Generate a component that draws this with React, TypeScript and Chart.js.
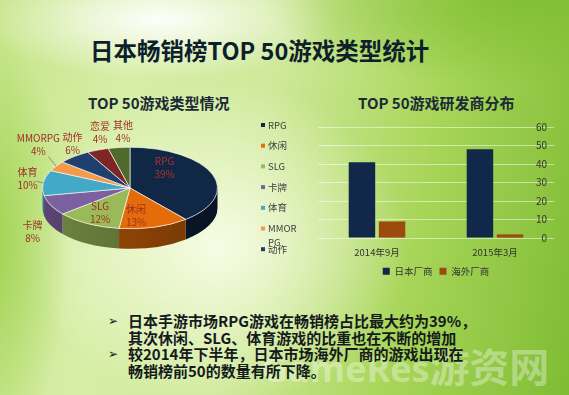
import React, { useEffect, useRef } from 'react';
import { Chart, registerables } from 'chart.js';

Chart.register(...registerables);

// ---------- data ----------
const TITLE = '日本畅销榜TOP 50游戏类型统计';
const PIE_TITLE = 'TOP 50游戏类型情况';
const BAR_TITLE = 'TOP 50游戏研发商分布';

const GENRES = ['RPG', '休闲', 'SLG', '卡牌', '体育', 'MMORPG', '动作', '恋爱', '其他'];
const GENRE_SHARE = [39, 13, 12, 8, 10, 4, 6, 4, 4];
const GENRE_COLORS = ['#102746', '#e46c0a', '#9aba59', '#7d60a0', '#44a9c6', '#f39a4c', '#1f3f6e', '#7e2626', '#4f6a2a'];

const PERIODS = ['2014年9月', '2015年3月'];
const SERIES_NAMES = ['日本厂商', '海外厂商'];
const JAPAN_COUNT = [41, 48];
const OVERSEAS_COUNT = [9, 2];
const Y_MAX = 60;
const Y_STEP = 10;

const BULLETS = [
  ['日本手游市场RPG游戏在畅销榜占比最大约为39%，', '其次休闲、SLG、体育游戏的比重也在不断的增加'],
  ['较2014年下半年，日本市场海外厂商的游戏出现在', '畅销榜前50的数量有所下降。'],
];
const WATERMARK = ['GameRes', '游资网'];

// ---------- layout / style ----------
const FONT = '"Noto Sans CJK SC", "Noto Sans", sans-serif';
const TILT = 0.466;
const DEPTH = 20;
// label placement factors relative to the pie ellipse (x factor, y factor)
const LABEL_PLACE = [
  [0.42, 1.5], [0.25, 0.71], [0.71, 0.7], [1.23, 1.37], [1.18, 1.76],
  [1.24, 2.0], [1.03, 1.42], [0.93, 1.47], [0.64, 1.38],
];
const LEADER = [false, false, false, false, true, true, false, false, false];

function shade(hex: string, f: number) {
  const n = parseInt(hex.slice(1), 16);
  const r = Math.round(((n >> 16) & 255) * f);
  const g = Math.round(((n >> 8) & 255) * f);
  const b = Math.round((n & 255) * f);
  return `rgb(${r},${g},${b})`;
}

const pie3d = {
  id: 'pie3d',
  beforeDatasetsDraw(chart: any) {
    const arcs = chart.getDatasetMeta(0).data as any[];
    if (!arcs.length) return;
    const { x: cx, y: cy, outerRadius: r } = arcs[0].getProps(['x', 'y', 'outerRadius'], true);
    const ry = r * TILT;
    const ctx = chart.ctx as CanvasRenderingContext2D;
    ctx.save();
    arcs.forEach((arc, i) => {
      const { startAngle: s, endAngle: e } = arc.getProps(['startAngle', 'endAngle'], true);
      const a = Math.max(s, 0);
      const b = Math.min(e, Math.PI);
      if (a >= b) return;
      ctx.beginPath();
      ctx.ellipse(cx, cy, r, ry, 0, a, b);
      ctx.ellipse(cx, cy + DEPTH, r, ry, 0, b, a, true);
      ctx.closePath();
      const g = ctx.createLinearGradient(cx - r, 0, cx + r, 0);
      g.addColorStop(0, shade(GENRE_COLORS[i], 0.72));
      g.addColorStop(1, shade(GENRE_COLORS[i], 0.5));
      ctx.fillStyle = g;
      ctx.fill();
    });
    ctx.restore();
    ctx.save();
    ctx.translate(0, cy);
    ctx.scale(1, TILT);
    ctx.translate(0, -cy);
  },
  afterDatasetsDraw(chart: any) {
    chart.ctx.restore();
  },
  afterDraw(chart: any) {
    const arcs = chart.getDatasetMeta(0).data as any[];
    if (!arcs.length) return;
    const { x: cx, y: cy, outerRadius: r } = arcs[0].getProps(['x', 'y', 'outerRadius'], true);
    const ry = r * TILT;
    const ctx = chart.ctx as CanvasRenderingContext2D;
    ctx.save();
    ctx.font = `10px ${FONT}`;
    ctx.textAlign = 'center';
    ctx.textBaseline = 'middle';
    arcs.forEach((arc, i) => {
      const { startAngle: s, endAngle: e } = arc.getProps(['startAngle', 'endAngle'], true);
      const m = (s + e) / 2;
      const [fx, fy] = LABEL_PLACE[i];
      const outside = fx > 1;
      const lx = cx + r * Math.cos(m) * fx;
      const ly = cy + ry * Math.sin(m) * fy + (outside && Math.sin(m) > 0 ? DEPTH : 0);
      if (LEADER[i]) {
        const ex = cx + r * Math.cos(m);
        const ey = cy + ry * Math.sin(m);
        ctx.strokeStyle = '#8a8a8a';
        ctx.lineWidth = 1;
        ctx.beginPath();
        ctx.moveTo(ex, ey);
        ctx.lineTo(ex + (lx - ex) * 0.45, ey + (ly - ey) * 0.45);
        ctx.stroke();
      }
      ctx.fillStyle = i === 0 ? '#b3302c' : '#9e2f24';
      ctx.fillText(GENRES[i], lx, ly - 6.5);
      ctx.fillText(`${GENRE_SHARE[i]}%`, lx, ly + 6.5);
    });
    ctx.restore();

    // side legend (clipped by its box like the original)
    ctx.save();
    ctx.font = `9.5px ${FONT}`;
    ctx.textAlign = 'left';
    ctx.textBaseline = 'middle';
    const lx0 = 261;
    let y = 45;
    const step = 20.7;
    const maxW = 31;
    const bottom = 172;
    GENRES.forEach((name, i) => {
      if (y > bottom) return;
      ctx.fillStyle = GENRE_COLORS[i];
      ctx.fillRect(lx0, y - 2, 4, 4);
      ctx.fillStyle = '#404040';
      const lines: string[] = [];
      let cur = '';
      for (const ch of name) {
        if (cur && ctx.measureText(cur + ch).width > maxW) {
          lines.push(cur);
          cur = ch;
        } else cur += ch;
      }
      lines.push(cur);
      lines.forEach((ln, k) => ctx.fillText(ln, lx0 + 7, y + k * 13.5));
      y += step;
    });
    ctx.restore();
  },
};

function PieChart() {
  const ref = useRef<HTMLCanvasElement>(null);
  useEffect(() => {
    const chart = new Chart(ref.current!, {
      type: 'pie',
      data: {
        labels: GENRES,
        datasets: [
          {
            data: GENRE_SHARE,
            backgroundColor: GENRE_COLORS,
            borderColor: 'rgba(255,255,255,0.85)',
            borderWidth: 1,
          },
        ],
      },
      options: {
        responsive: false,
        animation: false,
        devicePixelRatio: 1,
        events: [],
        layout: { padding: { left: 42, right: 112, top: 20, bottom: 4 } },
        plugins: { legend: { display: false }, tooltip: { enabled: false } },
      },
      plugins: [pie3d],
    } as any);
    return () => chart.destroy();
  }, []);
  return <canvas ref={ref} width={330} height={200} style={{ width: 330, height: 200 }} />;
}

function BarChart() {
  const ref = useRef<HTMLCanvasElement>(null);
  useEffect(() => {
    const chart = new Chart(ref.current!, {
      type: 'bar',
      data: {
        labels: PERIODS,
        datasets: [
          { label: SERIES_NAMES[0], data: JAPAN_COUNT, backgroundColor: '#11284a' },
          { label: SERIES_NAMES[1], data: OVERSEAS_COUNT, backgroundColor: '#9c4a0e' },
        ],
      },
      options: {
        responsive: false,
        animation: false,
        devicePixelRatio: 1,
        events: [],
        categoryPercentage: 0.51,
        barPercentage: 0.88,
        layout: { padding: { left: 18, right: 15, top: 17, bottom: 2 } },
        scales: {
          x: {
            grid: { display: false },
            border: { display: false },
            ticks: { color: '#333', font: { family: FONT, size: 9.5 }, padding: 1 },
          },
          y: {
            position: 'right',
            min: 0,
            max: Y_MAX,
            grid: { color: 'rgba(255,255,255,0.5)', drawTicks: false },
            border: { display: false },
            afterFit: (s: any) => {
              s.width = 0;
            },
            ticks: {
              stepSize: Y_STEP,
              mirror: true,
              padding: -7,
              color: '#333',
              font: { family: FONT, size: 10 },
            },
          },
        },
        plugins: {
          legend: {
            position: 'bottom',
            labels: {
              boxWidth: 7,
              boxHeight: 7,
              padding: 7,
              color: '#333',
              font: { family: FONT, size: 9.5 },
            },
          },
          tooltip: { enabled: false },
        },
      },
    } as any);
    return () => chart.destroy();
  }, []);
  return <canvas ref={ref} width={269} height={178} style={{ width: 269, height: 178 }} />;
}

export default function App() {
  return (
    <div
      style={{
        position: 'fixed',
        left: 0,
        top: 0,
        width: 569,
        height: 395,
        overflow: 'hidden',
        fontFamily: FONT,
        background:
          'radial-gradient(ellipse 14% 55% at -2% 62%, rgba(150,206,66,0.85), rgba(150,206,66,0) 100%),' +
          'radial-gradient(ellipse 45% 22% at 92% 0%, rgba(128,190,50,0.9), rgba(128,190,50,0) 100%),' +
          'radial-gradient(ellipse 42% 20% at 28% 5%, rgba(255,255,255,0.95), rgba(255,255,255,0) 75%),' +
          'radial-gradient(ellipse 45% 55% at 38% 62%, rgba(248,253,232,0.95), rgba(248,253,232,0) 75%),' +
          'linear-gradient(100deg, #c6e58a 0%, #d6eea6 22%, #cfe99a 45%, #a7d558 72%, #7fbc34 100%)',
      }}
    >
      <div
        style={{
          position: 'absolute',
          left: 90,
          top: 34,
          fontSize: 23.5,
          fontWeight: 'bold',
          color: '#0e1f2c',
          whiteSpace: 'nowrap',
          lineHeight: '32px',
        }}
      >
        {TITLE}
      </div>
      <div
        style={{
          position: 'absolute',
          left: 88,
          top: 93,
          fontSize: 15,
          fontWeight: 'bold',
          color: '#1b2a36',
          whiteSpace: 'nowrap',
          lineHeight: '20px',
        }}
      >
        {PIE_TITLE}
      </div>
      <div
        style={{
          position: 'absolute',
          left: 358,
          top: 93,
          fontSize: 15,
          fontWeight: 'bold',
          color: '#1b2a36',
          whiteSpace: 'nowrap',
          lineHeight: '20px',
        }}
      >
        {BAR_TITLE}
      </div>
      <div style={{ position: 'absolute', left: 0, top: 80 }}>
        <PieChart />
      </div>
      <div style={{ position: 'absolute', left: 300, top: 110 }}>
        <BarChart />
      </div>
      <div
        style={{
          position: 'absolute',
          left: 262,
          top: 340,
          whiteSpace: 'nowrap',
          color: 'rgba(255,255,255,0.35)',
          fontWeight: 'bold',
          lineHeight: '50px',
        }}
      >
        <span style={{ fontSize: 36, fontFamily: '"Open Sans", sans-serif' }}>{WATERMARK[0]}</span>
        <span style={{ fontSize: 40 }}>{WATERMARK[1]}</span>
      </div>
      <div
        style={{
          position: 'absolute',
          left: 108,
          top: 313,
          fontSize: 15,
          fontWeight: 'bold',
          color: '#151a1c',
          lineHeight: '16.5px',
          whiteSpace: 'nowrap',
        }}
      >
        {BULLETS.map((lines, i) => (
          <div key={i} style={{ position: 'relative', paddingLeft: 20 }}>
            <span style={{ position: 'absolute', left: 0, top: 0, fontSize: 12, fontFamily: '"DejaVu Sans", sans-serif' }}>➢</span>
            {lines.map((ln, k) => (
              <div key={k}>{ln}</div>
            ))}
          </div>
        ))}
      </div>
    </div>
  );
}
